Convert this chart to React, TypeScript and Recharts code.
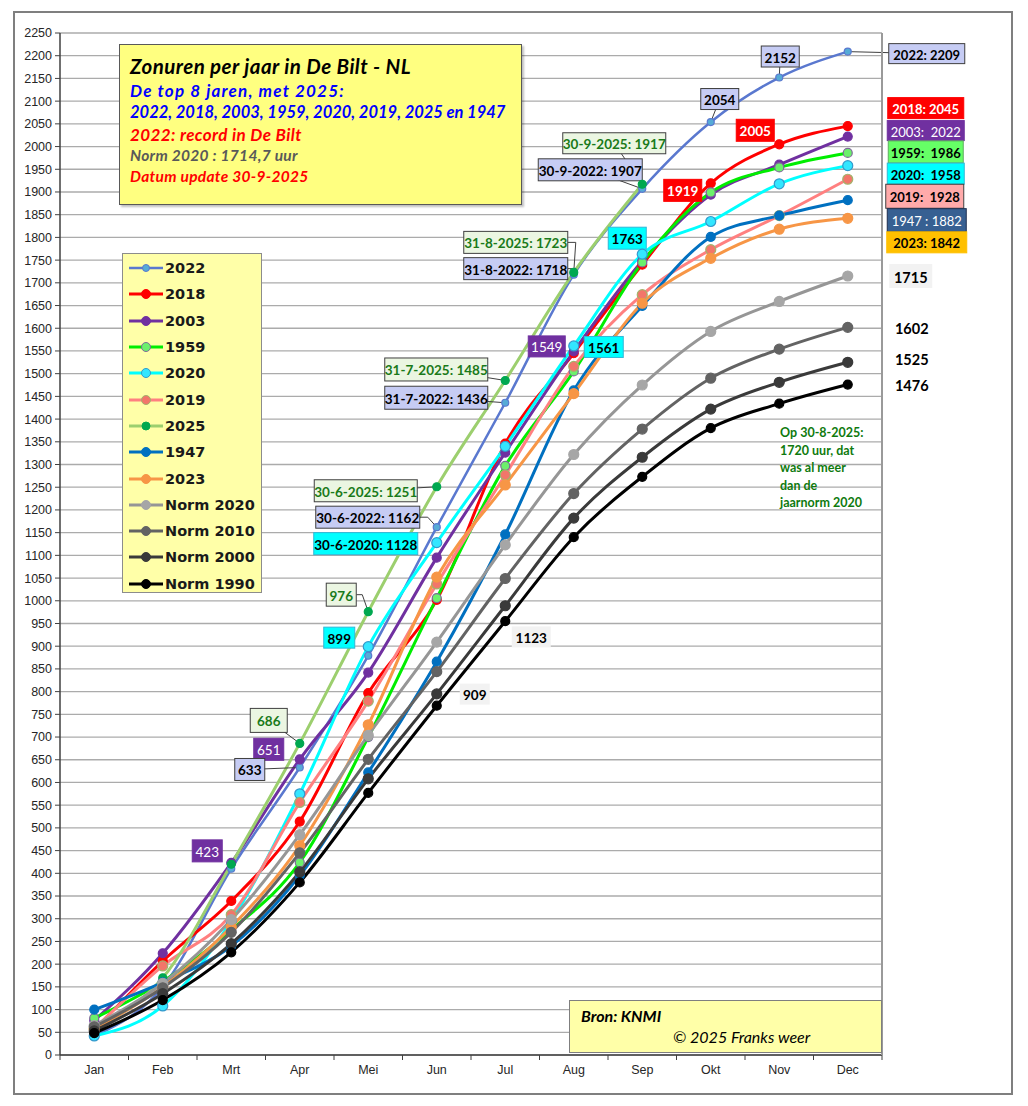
import React from "react";
import { LineChart, Line, XAxis, YAxis, CartesianGrid, Legend, ReferenceDot } from "recharts";

// Zonuren (cumulatief) per maand, De Bilt
const months = ["Jan", "Feb", "Mrt", "Apr", "Mei", "Jun", "Jul", "Aug", "Sep", "Okt", "Nov", "Dec"];

const zon2022 = [42, 150, 410, 633, 879, 1162, 1436, 1718, 1907, 2054, 2152, 2209];
const zon2018 = [55, 207, 339, 514, 797, 1002, 1346, 1545, 1740, 1919, 2005, 2045];
const zon2003 = [76, 224, 423, 651, 842, 1095, 1326, 1549, 1748, 1894, 1960, 2022];
const zon1959 = [81, 162, 275, 424, 700, 1006, 1297, 1505, 1745, 1899, 1954, 1986];
const zon2020 = [42, 108, 295, 575, 899, 1128, 1340, 1561, 1763, 1835, 1918, 1958];
const zon2019 = [58, 196, 309, 556, 779, 1037, 1277, 1516, 1674, 1773, 1848, 1928];
const zon2025 = [60, 170, 420, 686, 976, 1251, 1485, 1723, 1917];
const zon1947 = [100, 160, 240, 395, 622, 866, 1146, 1463, 1649, 1801, 1848, 1882];
const zon2023 = [57, 150, 282, 461, 727, 1052, 1255, 1456, 1655, 1754, 1818, 1842];
const norm2020 = [65, 158, 298, 485, 704, 909, 1123, 1322, 1475, 1593, 1659, 1715];
const norm2010 = [62, 148, 270, 445, 651, 844, 1049, 1236, 1378, 1490, 1554, 1602];
const norm2000 = [53, 135, 245, 403, 608, 795, 989, 1182, 1316, 1422, 1481, 1525];
const norm1990 = [48, 121, 226, 380, 577, 769, 955, 1140, 1273, 1380, 1434, 1476];

const yTicks = Array.from({ length: 46 }, (_, i) => i * 50);

const seriesList = [
  { key: "2022", values: zon2022, stroke: "#5A78CF", width: 2.5, dotFill: "#56ABD6", dotStroke: "#5A78CF", r: 3.5 },
  { key: "2018", values: zon2018, stroke: "#FF0000", width: 3, dotFill: "#FF0000", dotStroke: "#FF0000", r: 4.5 },
  { key: "2003", values: zon2003, stroke: "#7030A0", width: 3, dotFill: "#7030A0", dotStroke: "#7030A0", r: 4.5 },
  { key: "1959", values: zon1959, stroke: "#00EE00", width: 3, dotFill: "#6CF06C", dotStroke: "#7F6A9A", r: 4.5 },
  { key: "2020", values: zon2020, stroke: "#00FFFF", width: 3, dotFill: "#33E6FF", dotStroke: "#3399CC", r: 5 },
  { key: "2019", values: zon2019, stroke: "#FF8080", width: 3, dotFill: "#F2766A", dotStroke: "#A3B36B", r: 5 },
  { key: "2025", values: zon2025, stroke: "#9CCF6E", width: 3, dotFill: "#00A850", dotStroke: "#00A850", r: 4 },
  { key: "1947", values: zon1947, stroke: "#0070C0", width: 3, dotFill: "#0070C0", dotStroke: "#0070C0", r: 4.5 },
  { key: "2023", values: zon2023, stroke: "#F79646", width: 3, dotFill: "#F79646", dotStroke: "#F79646", r: 5 },
  { key: "Norm 2020", values: norm2020, stroke: "#969696", width: 3, dotFill: "#A6A6A6", dotStroke: "#A6A6A6", r: 5 },
  { key: "Norm 2010", values: norm2010, stroke: "#636363", width: 3, dotFill: "#636363", dotStroke: "#636363", r: 5 },
  { key: "Norm 2000", values: norm2000, stroke: "#3A3A3A", width: 3, dotFill: "#3A3A3A", dotStroke: "#3A3A3A", r: 5 },
  { key: "Norm 1990", values: norm1990, stroke: "#000000", width: 3, dotFill: "#000000", dotStroke: "#000000", r: 4.5 },
];

const chartData = months.map((month, i) => {
  const row: Record<string, string | number> = { month };
  seriesList.forEach((s) => {
    if (s.values[i] !== undefined) row[s.key] = s.values[i];
  });
  return row;
});

const boxStyles: Record<string, { fill: string; color: string; border: string; bold: boolean }> = {
  peri: { fill: "#C6CCF4", color: "#000", border: "#3F3F3F", bold: true },
  lgreen: { fill: "#EBF6E2", color: "#1A7A1A", border: "#3F3F3F", bold: true },
  cyan: { fill: "#00FFFF", color: "#000", border: "#2FB8D8", bold: true },
  purple: { fill: "#7030A0", color: "#FFF", border: "#7030A0", bold: false },
  red: { fill: "#FF0000", color: "#FFF", border: "#FF0000", bold: true },
  green: { fill: "#66FF66", color: "#000", border: "#5FAE5F", bold: true },
  pink: { fill: "#FFAAAA", color: "#000", border: "#404040", bold: true },
  navy: { fill: "#376092", color: "#FFF", border: "#1F2F4F", bold: false },
  orange: { fill: "#FFC000", color: "#000", border: "#FFC000", bold: true },
  grey: { fill: "#F2F2F2", color: "#000", border: "none", bold: true },
  plain: { fill: "none", color: "#000", border: "none", bold: true },
};

type Note = {
  key: string;
  idx: number;
  text: string;
  dx: number;
  dy: number;
  w: number;
  h: number;
  style: string;
  leader?: "line" | "elbow";
  ex?: number;
  size?: number;
};

const notes: Note[] = [
  { key: "2022", idx: 10, text: "2152", dx: 1, dy: -21, w: 38, h: 21, style: "peri", leader: "line" },
  { key: "2022", idx: 9, text: "2054", dx: 9, dy: -23, w: 38, h: 21, style: "peri", leader: "line" },
  { key: "2018", idx: 10, text: "2005", dx: -24, dy: -14, w: 38, h: 22, style: "red" },
  { key: "2018", idx: 9, text: "1919", dx: -28, dy: 7, w: 38, h: 22, style: "red" },
  { key: "2025", idx: 8, text: "30-9-2025: 1917", dx: -28, dy: -41, w: 103, h: 21, style: "lgreen", leader: "line" },
  { key: "2022", idx: 8, text: "30-9-2022: 1907", dx: -52, dy: -19, w: 104, h: 22, style: "peri", leader: "line" },
  { key: "2020", idx: 8, text: "1763", dx: -15, dy: -16, w: 38, h: 22, style: "cyan" },
  { key: "2025", idx: 7, text: "31-8-2025: 1723", dx: -58, dy: -30, w: 104, h: 22, style: "lgreen", leader: "elbow", ex: 2 },
  { key: "2022", idx: 7, text: "31-8-2022: 1718", dx: -58, dy: -6, w: 104, h: 22, style: "peri", leader: "elbow", ex: 2 },
  { key: "2003", idx: 7, text: "1549", dx: -27, dy: -5, w: 37, h: 21, style: "purple" },
  { key: "2020", idx: 7, text: "1561", dx: 30, dy: 1, w: 39, h: 21, style: "cyan" },
  { key: "2025", idx: 6, text: "31-7-2025: 1485", dx: -69, dy: -11, w: 103, h: 23, style: "lgreen", leader: "line" },
  { key: "2022", idx: 6, text: "31-7-2022: 1436", dx: -69, dy: -5, w: 103, h: 23, style: "peri", leader: "line" },
  { key: "2025", idx: 5, text: "30-6-2025: 1251", dx: -71, dy: 4, w: 103, h: 22, style: "lgreen", leader: "line" },
  { key: "2022", idx: 5, text: "30-6-2022: 1162", dx: -69, dy: -10, w: 104, h: 22, style: "peri", leader: "elbow", ex: -9 },
  { key: "2020", idx: 5, text: "30-6-2020: 1128", dx: -71, dy: 1, w: 104, h: 22, style: "cyan" },
  { key: "2025", idx: 4, text: "976", dx: -27, dy: -17, w: 30, h: 23, style: "lgreen", leader: "elbow", ex: -6 },
  { key: "2020", idx: 4, text: "899", dx: -29, dy: -9, w: 31, h: 21, style: "cyan" },
  { key: "2025", idx: 3, text: "686", dx: -31, dy: -23, w: 37, h: 24, style: "lgreen", leader: "line" },
  { key: "2003", idx: 3, text: "651", dx: -31, dy: -10, w: 30, h: 22, style: "purple" },
  { key: "2022", idx: 3, text: "633", dx: -50, dy: 2, w: 30, h: 22, style: "peri", leader: "line" },
  { key: "2003", idx: 2, text: "423", dx: -24, dy: -12, w: 30, h: 22, style: "purple" },
  { key: "Norm 2020", idx: 6, text: "1123", dx: 26, dy: 92, w: 39, h: 21, style: "grey" },
  { key: "Norm 2020", idx: 5, text: "909", dx: 38, dy: 52, w: 30, h: 21, style: "grey" },
  { key: "2022", idx: 11, text: "2022: 2209", dx: 79, dy: 2, w: 76, h: 20, style: "peri", leader: "line", size: 13 },
  { key: "2018", idx: 11, text: "2018: 2045", dx: 78, dy: -18, w: 76, h: 21, style: "red", size: 13 },
  { key: "2003", idx: 11, text: "2003:  2022", dx: 78, dy: -6, w: 77, h: 20, style: "purple", size: 13 },
  { key: "1959", idx: 11, text: "1959:  1986", dx: 78, dy: -1, w: 75, h: 22, style: "green", size: 13 },
  { key: "2020", idx: 11, text: "2020:  1958", dx: 78, dy: 8, w: 77, h: 21, style: "cyan", size: 13 },
  { key: "2019", idx: 11, text: "2019:  1928", dx: 77, dy: 17, w: 78, h: 24, style: "pink", size: 13 },
  { key: "1947", idx: 11, text: "1947 : 1882", dx: 79, dy: 20, w: 79, h: 23, style: "navy", size: 13 },
  { key: "2023", idx: 11, text: "2023: 1842", dx: 79, dy: 24, w: 80, h: 21, style: "orange", size: 13 },
  { key: "Norm 2020", idx: 11, text: "1715", dx: 63, dy: 0, w: 43, h: 24, style: "grey", size: 14.5 },
  { key: "Norm 2010", idx: 11, text: "1602", dx: 64, dy: 0, w: 40, h: 20, style: "plain", size: 14.5 },
  { key: "Norm 2000", idx: 11, text: "1525", dx: 64, dy: -4, w: 40, h: 20, style: "plain", size: 14.5 },
  { key: "Norm 1990", idx: 11, text: "1476", dx: 64, dy: 0, w: 40, h: 20, style: "plain", size: 14.5 },
];

const CALIBRI = "Lato, 'Open Sans', sans-serif";
const ARIAL = "'Liberation Sans', Arial, sans-serif";
const HALF_BAND = 822 / 24;

const titleLines = [
  { t: "Zonuren per jaar in De Bilt - NL", c: "#000", s: 20.5, y: 21, ls: 0.45 },
  { t: "De top 8 jaren, met 2025:", c: "#0000FF", s: 17, y: 45, ls: 1.2 },
  { t: "2022, 2018, 2003, 1959, 2020, 2019, 2025 en 1947", c: "#0000FF", s: 16.5, y: 67, ls: 0 },
  { t: "2022: record in De Bilt", c: "#FF0000", s: 17, y: 89, ls: 0.4 },
  { t: "Norm 2020 : 1714,7 uur", c: "#595959", s: 15.5, y: 111, ls: 0.3 },
  { t: "Datum update 30-9-2025", c: "#FF0000", s: 15.5, y: 132, ls: 0.3 },
];

const renderNote = (note: Note) => (props: any) => {
  const { cx, cy } = props;
  if (cx == null || cy == null) return <g />;
  const st = boxStyles[note.style];
  const bx = cx + note.dx;
  const by = cy + note.dy;
  let leader = null;
  if (note.leader === "line") {
    leader = <line x1={cx} y1={cy} x2={bx} y2={by} stroke="#404040" strokeWidth={1} />;
  } else if (note.leader === "elbow") {
    leader = (
      <polyline
        points={`${bx + note.w / 2},${by} ${cx + (note.ex ?? 0)},${by} ${cx},${cy}`}
        fill="none"
        stroke="#404040"
        strokeWidth={1}
      />
    );
  }
  return (
    <g>
      {leader}
      <rect
        x={bx - note.w / 2}
        y={by - note.h / 2}
        width={note.w}
        height={note.h}
        fill={st.fill}
        stroke={st.border}
        strokeWidth={1}
      />
      <text
        x={bx}
        y={by + 1}
        textAnchor="middle"
        dominantBaseline="central"
        fill={st.color}
        fontFamily={CALIBRI}
        fontWeight={st.bold ? 700 : 400}
        fontSize={note.size ?? 13.5}
        style={{ whiteSpace: "pre" }}
      >
        {note.text}
      </text>
    </g>
  );
};

const MonthTick = ({ x, y, payload, index }: any) => (
  <g>
    {index === 0 && <line x1={x - HALF_BAND} x2={x - HALF_BAND} y1={y - 8} y2={y - 3} stroke="#404040" />}
    <line x1={x + HALF_BAND} x2={x + HALF_BAND} y1={y - 8} y2={y - 3} stroke="#404040" />
    <text x={x} y={y + 11} textAnchor="middle" fill="#262626" fontSize={12.5} fontFamily={ARIAL}>
      {payload.value}
    </text>
  </g>
);

const LegendBox = () => (
  <div
    style={{
      width: 140,
      height: 340,
      boxSizing: "border-box",
      background: "#FFFFA8",
      border: "1px solid #8C8C8C",
      paddingTop: 1,
    }}
  >
    {seriesList.map((s) => (
      <div key={s.key} style={{ display: "flex", alignItems: "center", height: 26.3 }}>
        <svg width={40} height={12} style={{ marginLeft: 4 }}>
          <line x1={2} x2={36} y1={6} y2={6} stroke={s.stroke} strokeWidth={s.width} />
          <circle cx={19} cy={6} r={Math.min(s.r, 4.5)} fill={s.dotFill} stroke={s.dotStroke} strokeWidth={1} />
        </svg>
        <span
          style={{
            fontFamily: "'DejaVu Sans', Verdana, sans-serif",
            fontWeight: 700,
            fontSize: 14.5,
            color: "#1a1a1a",
            marginLeft: -2,
          }}
        >
          {s.key}
        </span>
      </div>
    ))}
  </div>
);

export default function App() {
  return (
    <div style={{ position: "absolute", left: 0, top: 0, width: 1028, height: 1106, background: "#fff" }}>
      <div
        style={{
          position: "absolute",
          left: 13,
          top: 11,
          width: 1000,
          height: 1084,
          border: "2px solid #7F7F7F",
          boxSizing: "border-box",
        }}
      />
      <div style={{ position: "absolute", left: 0, top: 0 }}>
        <LineChart width={1028} height={1106} data={chartData} margin={{ top: 33, right: 146, left: 14, bottom: 21 }}>
          <CartesianGrid stroke="#ABABAB" strokeWidth={1.3} vertical={false} />
          <XAxis
            dataKey="month"
            padding={{ left: HALF_BAND, right: HALF_BAND }}
            height={30}
            tickSize={5}
            tickMargin={3}
            tickLine={false}
            interval={0}
            axisLine={{ stroke: "#404040", strokeWidth: 1.5 }}
            tick={<MonthTick />}
          />
          <YAxis
            domain={[0, 2250]}
            ticks={yTicks}
            interval={0}
            width={46}
            tickSize={5}
            tickMargin={3}
            axisLine={{ stroke: "#404040", strokeWidth: 1.5 }}
            tickLine={{ stroke: "#404040" }}
            tick={{ fontSize: 12.5, fill: "#262626", fontFamily: ARIAL }}
          />
          <Legend
            layout="horizontal"
            verticalAlign="middle"
            align="center"
            content={() => <LegendBox />}
            wrapperStyle={{ left: 122, top: 253, width: 140, height: 340 }}
          />
          {seriesList.map((s) => (
            <Line
              key={s.key}
              dataKey={s.key}
              name={s.key}
              type="monotone"
              stroke={s.stroke}
              strokeWidth={s.width}
              dot={{ r: s.r, fill: s.dotFill, stroke: s.dotStroke, strokeWidth: 1.2 }}
              activeDot={false}
              connectNulls={false}
              isAnimationActive={false}
            />
          ))}
          {notes.map((n, i) => {
            const s = seriesList.find((q) => q.key === n.key)!;
            return (
              <ReferenceDot
                key={i}
                x={months[n.idx]}
                y={s.values[n.idx]}
                r={0}
                ifOverflow="visible"
                shape={renderNote(n)}
              />
            );
          })}
        </LineChart>
      </div>
      {/* right border of plot */}
      <div style={{ position: "absolute", left: 881, top: 33, width: 1.5, height: 1022, background: "#9A9A9A" }} />

      {/* title box */}
      <div
        style={{
          position: "absolute",
          left: 119,
          top: 44,
          width: 403,
          height: 161,
          boxSizing: "border-box",
          background: "#FFFF80",
          border: "1.5px solid #595959",
          boxShadow: "2px 2px 2px rgba(0,0,0,0.25)",
          fontFamily: CALIBRI,
          fontStyle: "italic",
          fontWeight: 700,
        }}
      >
        {titleLines.map((l) => (
          <div
            key={l.t}
            style={{
              position: "absolute",
              left: 10,
              top: l.y,
              transform: "translateY(-50%)",
              color: l.c,
              fontSize: l.s,
              letterSpacing: l.ls,
              whiteSpace: "nowrap",
              lineHeight: 1,
            }}
          >
            {l.t}
          </div>
        ))}
      </div>

      {/* note */}
      <div
        style={{
          position: "absolute",
          left: 780,
          top: 424,
          fontFamily: CALIBRI,
          fontWeight: 700,
          fontSize: 12.5,
          color: "#0E7A0E",
          lineHeight: "17.5px",
        }}
      >
        Op 30-8-2025:
        <br />
        1720 uur, dat
        <br />
        was al meer
        <br />
        dan de
        <br />
        jaarnorm 2020
      </div>

      {/* source box */}
      <div
        style={{
          position: "absolute",
          left: 569,
          top: 1000,
          width: 313,
          height: 53,
          boxSizing: "border-box",
          background: "#FFFFA8",
          border: "1.5px solid #7F7F7F",
          fontFamily: CALIBRI,
          fontStyle: "italic",
          color: "#000",
        }}
      >
        <div style={{ position: "absolute", left: 11, top: 5, fontWeight: 700, fontSize: 16 }}>Bron: KNMI</div>
        <div style={{ position: "absolute", left: 103, top: 26, fontSize: 16 }}>© 2025 Franks weer</div>
      </div>
    </div>
  );
}
